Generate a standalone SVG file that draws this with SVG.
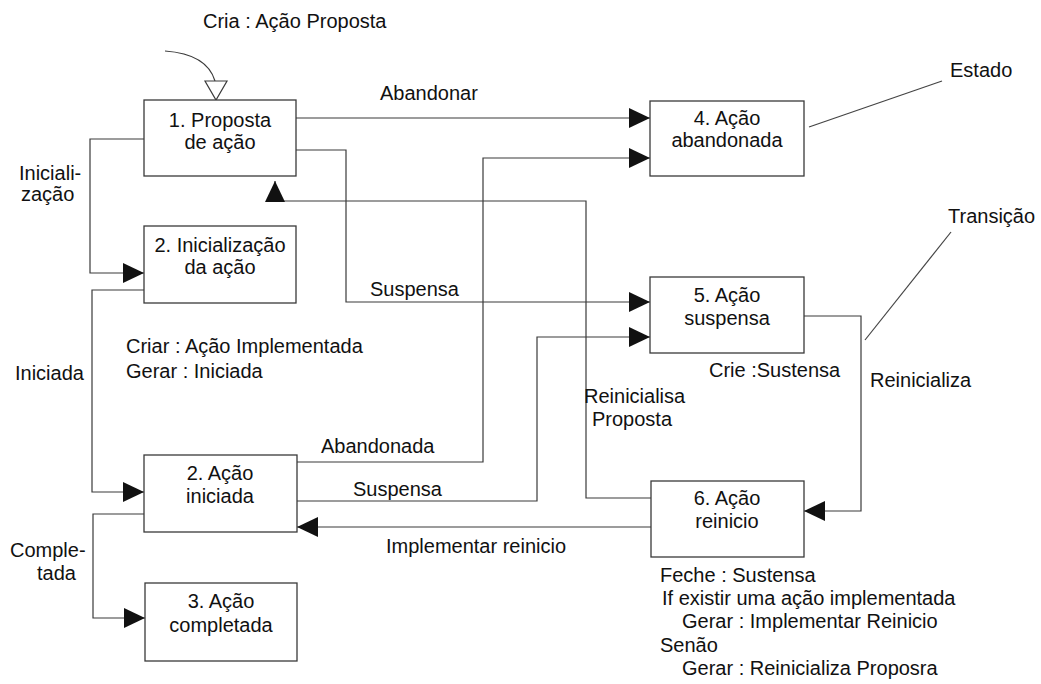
<svg xmlns="http://www.w3.org/2000/svg" width="1041" height="684" viewBox="0 0 1041 684">
  <style>
    text { font-family: "Liberation Sans", Arial, sans-serif; font-size: 20px; fill: #111111; }
    .c { text-anchor: middle; }
    .box { fill: #ffffff; stroke: #3a3a3a; stroke-width: 1.3; }
    .wire { fill: none; stroke: #3a3a3a; stroke-width: 1.2; }
    .note { fill: none; stroke: #444; stroke-width: 1.2; }
  </style>
  <defs>
    <marker id="arrow" viewBox="0 0 21 20" refX="21" refY="10" markerWidth="21" markerHeight="20" markerUnits="userSpaceOnUse" orient="auto">
      <path d="M0,0 L21,10 L0,20 z" fill="#111"/>
    </marker>
  </defs>

  <rect width="1041" height="684" fill="#ffffff"/>

  <!-- connectors -->
  <g id="connectors">
    <!-- initial transition into state 1 -->
    <path class="wire" d="M165,51 Q207,54 215,81"/>
    <polygon points="205,81 227,81 216,100" fill="#fff" stroke="#3a3a3a" stroke-width="1.2"/>

    <!-- 1 -> 4 Abandonar -->
    <path class="wire" d="M296,118 H650" marker-end="url(#arrow)"/>
    <!-- 1 -> 5 Suspensa -->
    <path class="wire" d="M296,150 H346 V302 H650" marker-end="url(#arrow)"/>
    <!-- 1 -> 2 Inicialização -->
    <path class="wire" d="M144,139 H90 V273 H144" marker-end="url(#arrow)"/>
    <!-- 2 -> 2 Iniciada -->
    <path class="wire" d="M144,290 H92 V492 H144" marker-end="url(#arrow)"/>
    <!-- 2 iniciada -> 3 Completada -->
    <path class="wire" d="M144,514 H93 V618 H145" marker-end="url(#arrow)"/>
    <!-- 2 iniciada -> 4 Abandonada -->
    <path class="wire" d="M297,462 H483 V158 H650" marker-end="url(#arrow)"/>
    <!-- 2 iniciada -> 5 Suspensa -->
    <path class="wire" d="M297,501 H537 V337 H650" marker-end="url(#arrow)"/>
    <!-- 6 -> 1 Reinicialisa Proposta -->
    <path class="wire" d="M651,498 H586 V201 H275 V181" marker-end="url(#arrow)"/>
    <!-- 5 -> 6 Reinicializa -->
    <path class="wire" d="M804,316 H861 V511 H804" marker-end="url(#arrow)"/>
    <!-- 6 -> 2 iniciada Implementar reinicio -->
    <path class="wire" d="M651,527 H297" marker-end="url(#arrow)"/>

    <!-- callout lines -->
    <path class="note" d="M809,127 L942,81"/>
    <path class="note" d="M865,340 L951,232"/>
  </g>

  <!-- states -->
  <g id="state1">
    <rect class="box" x="144" y="100" width="152" height="76"/>
    <text class="c" x="220" y="127">1. Proposta</text>
    <text class="c" x="220" y="149">de ação</text>
  </g>
  <g id="state2-init">
    <rect class="box" x="144" y="226" width="152" height="77"/>
    <text class="c" x="220" y="252">2. Inicialização</text>
    <text class="c" x="220" y="274">da ação</text>
  </g>
  <g id="state2-started">
    <rect class="box" x="144" y="455" width="153" height="77"/>
    <text class="c" x="220" y="480">2. Ação</text>
    <text class="c" x="220" y="503">iniciada</text>
  </g>
  <g id="state3">
    <rect class="box" x="145" y="583" width="152" height="78"/>
    <text class="c" x="221" y="608">3. Ação</text>
    <text class="c" x="221" y="632">completada</text>
  </g>
  <g id="state4">
    <rect class="box" x="650" y="101" width="154" height="75"/>
    <text class="c" x="727" y="125">4. Ação</text>
    <text class="c" x="727" y="147">abandonada</text>
  </g>
  <g id="state5">
    <rect class="box" x="650" y="277" width="154" height="76"/>
    <text class="c" x="727" y="302">5. Ação</text>
    <text class="c" x="727" y="325">suspensa</text>
  </g>
  <g id="state6">
    <rect class="box" x="651" y="481" width="153" height="76"/>
    <text class="c" x="727" y="505">6. Ação</text>
    <text class="c" x="727" y="528">reinicio</text>
  </g>

  <!-- labels -->
  <g id="labels">
    <text x="203" y="28">Cria : Ação Proposta</text>
    <text x="380" y="100">Abandonar</text>
    <text x="950" y="77">Estado</text>
    <text x="948" y="223">Transição</text>
    <text x="19" y="180">Iniciali-</text>
    <text x="21" y="201">zação</text>
    <text x="370" y="296">Suspensa</text>
    <text x="126" y="353">Criar : Ação Implementada</text>
    <text x="126" y="378">Gerar : Iniciada</text>
    <text x="15" y="380">Iniciada</text>
    <text x="709" y="377">Crie :Sustensa</text>
    <text x="870" y="387">Reinicializa</text>
    <text x="584" y="403">Reinicialisa</text>
    <text x="592" y="426">Proposta</text>
    <text x="321" y="453">Abandonada</text>
    <text x="353" y="496">Suspensa</text>
    <text x="386" y="553">Implementar reinicio</text>
    <text x="10" y="557">Comple-</text>
    <text x="37" y="580">tada</text>
    <text x="660" y="582">Feche : Sustensa</text>
    <text x="662" y="605">If existir uma ação implementada</text>
    <text x="682" y="628">Gerar : Implementar Reinicio</text>
    <text x="660" y="652">Senão</text>
    <text x="682" y="675">Gerar : Reinicializa Proposra</text>
  </g>
</svg>
